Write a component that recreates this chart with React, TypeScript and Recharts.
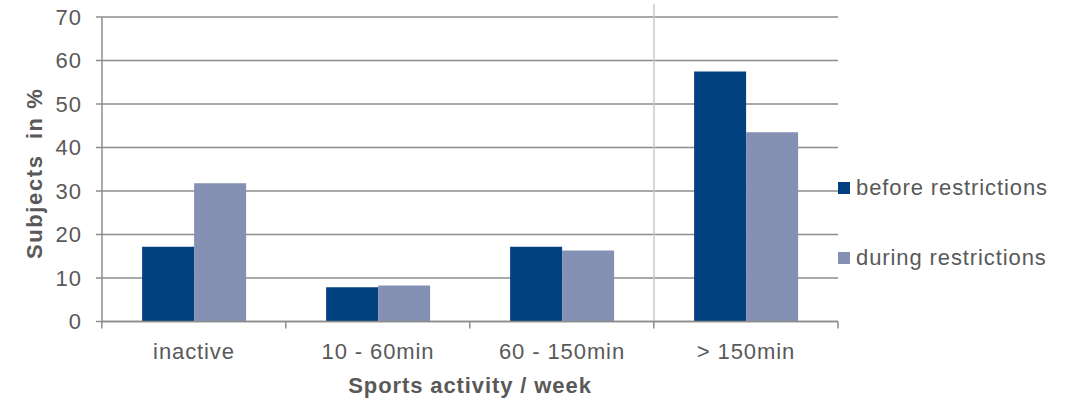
import React from "react";
import { BarChart, Bar, XAxis, YAxis, CartesianGrid, Legend, ReferenceLine } from "recharts";

const categories = ["inactive", "10 - 60min", "60 - 150min", "> 150min"];
const beforeValues = [17.2, 7.9, 17.2, 57.5];
const duringValues = [31.8, 8.3, 16.3, 43.5];
const yTicks = [0, 10, 20, 30, 40, 50, 60, 70];
const seriesNames = ["before restrictions", "during restrictions"];
const seriesColors = ["#02417F", "#8591B4"];

const data = categories.map((c, i) => ({ name: c, before: beforeValues[i], during: duringValues[i] }));

const FONT = "'Liberation Sans', Arial, sans-serif";
const TEXT = "#595959";
const GRID = "#8c8c8c";

const SepLine = (props: any) => {
  const x = props.x1;
  const yTop = Math.min(props.y1, props.y2) - 13;
  const yBot = Math.max(props.y1, props.y2);
  return <line x1={x} x2={x} y1={yTop} y2={yBot} stroke="#c8c8c8" strokeWidth={1.5} />;
};

const EndTick = (props: any) => {
  const x = props.x1;
  const yBot = Math.max(props.y1, props.y2);
  return <line x1={x} x2={x} y1={yBot} y2={yBot + 7} stroke={GRID} strokeWidth={1.5} />;
};

const LegendContent = () => (
  <div style={{ width: 228, fontFamily: FONT, fontSize: 22, letterSpacing: 0.9, color: TEXT }}>
    {seriesNames.map((n, i) => (
      <div key={n} style={{ height: 70, display: "flex", alignItems: "center" }}>
        <span style={{ display: "inline-block", width: 12, height: 12, background: seriesColors[i], marginRight: 6 }} />
        <span>{n}</span>
      </div>
    ))}
  </div>
);

export default function App() {
  return (
    <div style={{ position: "absolute", left: 0, top: 0, background: "#fff" }}>
      <BarChart
        width={1066}
        height={400}
        data={data}
        margin={{ top: 17, right: 0, bottom: 0, left: 0 }}
        barCategoryGap="21.8%"
        barGap={0}
      >
        <CartesianGrid vertical={false} stroke={GRID} strokeWidth={1.5} />
        <XAxis
          dataKey="name"
          height={78.5}
          tickSize={7}
          tickMargin={15}
          interval={0}
          axisLine={{ stroke: GRID, strokeWidth: 1.5 }}
          tickLine={{ stroke: GRID, strokeWidth: 1.5, transform: "translate(-92.2,0)" }}
          tick={{ fill: TEXT, fontSize: 22, fontFamily: FONT, letterSpacing: 0.9 }}
          label={{
            content: (p: any) => {
              const vb = p.viewBox;
              return (
                <text
                  x={vb.x + vb.width / 2}
                  y={393}
                  textAnchor="middle"
                  fill={TEXT}
                  fontSize={22}
                  fontWeight="bold"
                  fontFamily={FONT}
                  letterSpacing={0.9}
                >
                  Sports activity / week
                </text>
              );
            },
          }}
        />
        <YAxis
          width={102}
          domain={[0, 70]}
          ticks={yTicks}
          interval={0}
          tickSize={6}
          tickMargin={14}
          axisLine={{ stroke: GRID, strokeWidth: 1.5 }}
          tickLine={{ stroke: GRID, strokeWidth: 1.5 }}
          tick={{ fill: TEXT, fontSize: 22, fontFamily: FONT, letterSpacing: 1 }}
          label={{
            content: (p: any) => {
              const vb = p.viewBox;
              const cx = vb.x + 34;
              const cy = vb.y + vb.height / 2 + 4;
              return (
                <text
                  x={cx}
                  y={cy}
                  transform={`rotate(-90, ${cx}, ${cy})`}
                  textAnchor="middle"
                  dominantBaseline="central"
                  fill={TEXT}
                  fontSize={22}
                  fontWeight="bold"
                  fontFamily={FONT}
                  letterSpacing={1.6}
                  style={{ whiteSpace: "pre" }}
                >
                  {"Subjects  in %"}
                </text>
              );
            },
          }}
        />
        <ReferenceLine x={categories[3]} position="start" shape={SepLine} />
        <ReferenceLine x={categories[3]} position="end" shape={EndTick} />
        <Legend
          layout="vertical"
          align="right"
          verticalAlign="middle"
          content={LegendContent}
          wrapperStyle={{ top: 153 }}
        />
        <Bar dataKey="before" name={seriesNames[0]} fill={seriesColors[0]} isAnimationActive={false} />
        <Bar dataKey="during" name={seriesNames[1]} fill={seriesColors[1]} isAnimationActive={false} />
      </BarChart>
    </div>
  );
}
